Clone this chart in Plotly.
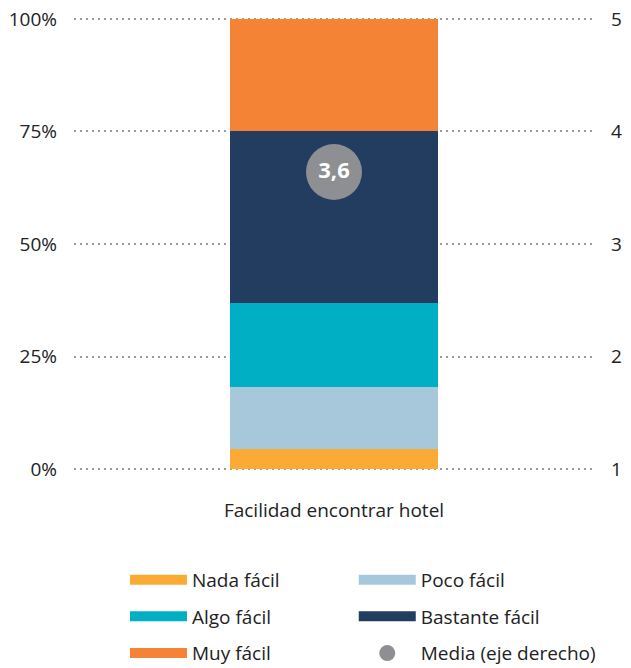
import plotly.graph_objects as go

categories = ["Facilidad encontrar hotel"]
series_names = ["Nada fácil", "Poco fácil", "Algo fácil", "Bastante fácil", "Muy fácil"]
series_values = [[4.4], [13.8], [18.7], [38.2], [24.9]]
series_colors = ["#FBAA36", "#A6C8DA", "#00AFC3", "#223D60", "#F58335"]
mean_name = "Media (eje derecho)"
mean_values = [3.64]
mean_color = "#8E8F93"
y_ticks = [0, 25, 50, 75, 100]
y_ticklabels = ["0%", "25%", "50%", "75%", "100%"]
y2_ticks = [1, 2, 3, 4, 5]

FONT = "Open Sans"
TXT = "#222222"
FS = 19

fig = go.Figure()

legend_of = {"Nada fácil": "legend", "Algo fácil": "legend", "Muy fácil": "legend",
             "Poco fácil": "legend2", "Bastante fácil": "legend2"}

for name, vals, col in zip(series_names, series_values, series_colors):
    fig.add_trace(go.Bar(x=categories, y=vals, name=name, marker_color=col,
                         marker_line_width=0, width=0.4, showlegend=False,
                         hoverinfo="skip"))
    # legend entry
    fig.add_trace(go.Scatter(x=[None], y=[None], mode="lines", name=name,
                             line=dict(color=col, width=10),
                             legend=legend_of[name], legendgroup=name))

fig.add_trace(go.Scatter(x=categories, y=mean_values, yaxis="y2", mode="markers",
                         name=mean_name, marker=dict(color=mean_color, size=56),
                         legend="legend2", legendgroup=mean_name, hoverinfo="skip"))
fig.add_trace(go.Scatter(x=categories, y=mean_values, yaxis="y2", mode="text",
                         text=[f"{v:.1f}".replace(".", ",") for v in mean_values],
                         textposition="middle center", showlegend=False, hoverinfo="skip",
                         textfont=dict(color="white", size=22, family=FONT, weight="bold")))

legend_common = dict(orientation="v", yanchor="top", xanchor="left",
                     font=dict(size=FS, color=TXT, family=FONT),
                     tracegroupgap=9, bgcolor="rgba(0,0,0,0)", itemwidth=57)

fig.update_layout(
    width=631, height=668,
    margin=dict(l=74, r=37, t=17, b=197, autoexpand=False),
    plot_bgcolor="white", paper_bgcolor="white",
    barmode="stack",
    font=dict(family=FONT, size=FS, color=TXT),
    xaxis=dict(showgrid=False, zeroline=False, showline=False, ticks="",
               tickfont=dict(size=FS, color=TXT), ticklabelstandoff=26,
               automargin=False, fixedrange=True),
    yaxis=dict(range=[-0.44, 100.44], tickvals=y_ticks, ticktext=y_ticklabels,
               showgrid=True, gridcolor="#9a9a9a", griddash="2px,4px", gridwidth=2,
               zeroline=False, showline=False, ticklabelstandoff=16,
               tickfont=dict(size=FS, color=TXT), automargin=False, fixedrange=True),
    yaxis2=dict(range=[0.9822, 5.0178], tickvals=y2_ticks, overlaying="y", side="right",
                showgrid=False, zeroline=False, showline=False, ticklabelstandoff=16,
                tickfont=dict(size=FS, color=TXT), automargin=False, fixedrange=True),
    legend=dict(x=0.098, y=-0.1978, **legend_common),
    legend2=dict(x=0.538, y=-0.1978, **legend_common),
    showlegend=True,
    hovermode=False,
)

fig.write_html("out.html", config={"displayModeBar": False},
               post_script="document.body.style.margin='0px';document.body.style.overflow='hidden';")
